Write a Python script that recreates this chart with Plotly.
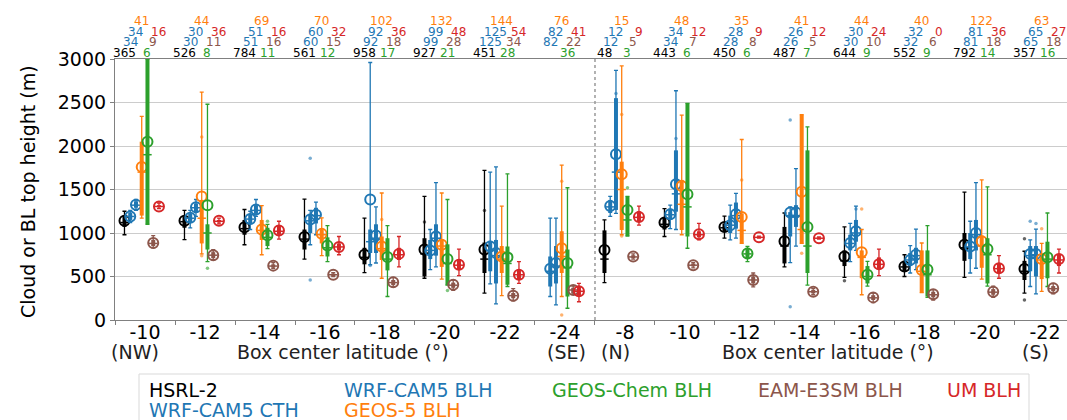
import plotly.graph_objects as go

# ---------------- data ----------------
tick_labels = ["-10", "-12", "-14", "-16", "-18", "-20", "-22", "-24",
               "-8", "-10", "-12", "-14", "-16", "-18", "-20", "-22"]
groups = list(range(16))

names = ["HSRL-2", "WRF-CAM5 CTH", "WRF-CAM5 BLH", "GEOS-5 BLH",
         "GEOS-Chem BLH", "EAM-E3SM BLH", "UM BLH"]
colors = ["#000000", "#1f77b4", "#1f77b4", "#ff7f0e", "#2ca02c", "#8c564b", "#d62728"]

# per group: [whisker low, q1, median, q3, whisker high, mean]  (m)
hsrl = [[980, 1070, 1120, 1200, 1250, 1140], [925, 1060, 1130, 1190, 1260, 1140],
        [865, 980, 1050, 1150, 1270, 1065], [700, 810, 930, 1040, 1390, 955],
        [545, 640, 720, 830, 1170, 750], [480, 500, 760, 940, 1420, 810],
        [310, 540, 700, 890, 1720, 810], None,
        [430, 540, 700, 1030, 1150, 805], [960, 1040, 1100, 1180, 1280, 1120],
        [940, 1020, 1060, 1110, 1195, 1070], [610, 650, 850, 1070, 1230, 905],
        [490, 620, 680, 800, 1070, 730], [500, 560, 610, 680, 750, 615],
        [490, 680, 830, 1000, 1470, 865], [310, 460, 560, 680, 790, 585]]
wrf_cth = [[1120, 1150, 1190, 1230, 1260, 1190], [1060, 1120, 1170, 1220, 1260, 1175],
           [1040, 1100, 1160, 1220, 1250, 1160], [865, 1000, 1140, 1220, 1260, 1155],
           [635, 770, 900, 1040, 2960, 1385], [580, 700, 800, 920, 1040, 800],
           [415, 560, 800, 910, 1700, 845], [270, 385, 560, 730, 1170, 590],
           [1190, 1230, 1300, 1380, 1420, 1310], [1050, 1150, 1210, 1280, 1320, 1215],
           [920, 1000, 1090, 1200, 1320, 1090], [660, 960, 1200, 1240, 1300, 1235],
           [670, 800, 880, 980, 1110, 885], [540, 620, 690, 770, 855, 690],
           [540, 700, 840, 1000, 1135, 845], [385, 560, 740, 850, 920, 760]]
wrf_blh = [[1260, 1290, 1320, 1365, 1385, 1325], [1190, 1230, 1290, 1340, 1385, 1295],
           [1190, 1220, 1260, 1320, 1385, 1270], [980, 1110, 1200, 1290, 1355, 1210],
           [655, 770, 940, 1100, 1300, 970], [610, 740, 940, 1100, 1580, 960],
           [185, 420, 740, 920, 1760, 770], [175, 420, 620, 850, 1170, 655],
           [1225, 1265, 1700, 2550, 2870, 1905], [1040, 1245, 1450, 1950, 2635, 1560],
           [940, 1050, 1200, 1350, 1455, 1215], [850, 1070, 1200, 1320, 1740, 1235],
           [800, 900, 1000, 1150, 1310, 1020], [580, 650, 740, 830, 1045, 750],
           [595, 800, 980, 1150, 1580, 1000], [300, 500, 750, 850, 1045, 760]]
geos5 = [[1170, 1200, 1700, 2050, 2340, 1760], [760, 880, 1170, 1380, 2620, 1420],
         [750, 920, 1030, 1150, 1315, 1040], [740, 880, 980, 1040, 1175, 990],
         [480, 690, 820, 960, 1460, 845], [470, 610, 850, 930, 1460, 865],
         [280, 540, 700, 850, 1310, 730], [270, 540, 730, 1020, 1780, 825],
         [980, 1035, 1500, 1820, 2920, 1675], [980, 1035, 1330, 1610, 2355, 1540],
         [880, 880, 1030, 1225, 2075, 1185], [880, 880, 1040, 2360, 2360, 1475],
         [290, 480, 720, 800, 1040, 780], [315, 315, 560, 800, 885, 575],
         [470, 600, 850, 970, 1610, 905], [330, 470, 690, 730, 880, 700]]
geoschem = [[1100, 1100, 1900, 3000, 3000, 2050], [670, 810, 1000, 1100, 2480, 1320],
            [820, 850, 950, 1060, 1100, 975], [670, 730, 830, 950, 1085, 855],
            [270, 570, 700, 940, 1085, 725], [400, 400, 650, 870, 1385, 700],
            [385, 405, 650, 845, 1680, 720], [135, 270, 600, 810, 1520, 655],
            [965, 965, 1150, 1420, 1420, 1265], [825, 960, 1300, 2490, 2490, 1445],
            [670, 700, 760, 820, 845, 765], [400, 540, 850, 1950, 2220, 1070],
            [390, 420, 500, 620, 675, 520], [260, 270, 520, 800, 1085, 580],
            [390, 420, 750, 940, 1530, 815], [385, 480, 700, 900, 1230, 720]]
eam = [[830, 850, 880, 920, 970, 885], [690, 710, 745, 780, 810, 745],
       [590, 600, 620, 640, 660, 625], [500, 505, 520, 535, 545, 520],
       [380, 400, 430, 460, 490, 435], [340, 370, 400, 430, 460, 405],
       [220, 250, 280, 310, 360, 280], [300, 310, 345, 370, 390, 345],
       [700, 710, 725, 745, 760, 730], [600, 615, 630, 650, 660, 630],
       [380, 420, 460, 500, 540, 460], [290, 305, 325, 345, 360, 325],
       [200, 230, 255, 285, 310, 260], [230, 260, 290, 325, 350, 295],
       [260, 290, 320, 355, 390, 325], [300, 330, 360, 390, 420, 365]]
um = [[1280, 1295, 1305, 1320, 1345, 1305], [1105, 1120, 1135, 1150, 1170, 1140],
      [930, 980, 1020, 1080, 1135, 1030], [750, 800, 840, 880, 960, 840],
      [610, 690, 750, 830, 960, 760], [510, 580, 630, 700, 815, 635],
      [420, 470, 520, 580, 670, 520], [210, 280, 330, 380, 420, 330],
      [1090, 1130, 1180, 1250, 1310, 1185], [920, 950, 980, 1020, 1110, 985],
      [940, 945, 950, 960, 965, 950], [930, 935, 940, 950, 955, 940],
      [510, 590, 640, 720, 815, 640], None,
      [480, 540, 590, 650, 740, 595], [540, 620, 690, 760, 815, 700]]

# individual outlying points: (group, value)
hsrl_pts = [(5, 1127), (6, 1258), (12, 450), (15, 935), (15, 231)]
wrf_cth_pts = [(3, 1858), (3, 461), (4, 627), (11, 2298), (11, 153), (15, 1135)]
wrf_blh_pts = [(8, 2604), (8, 1635), (9, 2087), (12, 1277), (15, 1108)]
geos5_pts = [(1, 738), (1, 2104), (4, 1154), (7, 1596), (7, 58), (8, 2363), (8, 965),
             (9, 1333), (10, 1609), (11, 766), (12, 1277), (15, 1050)]
geoschem_pts = [(1, 596), (2, 1135), (5, 338), (8, 1521)]
eam_pts = []
um_pts = []

# sample counts
n_hsrl = ["365", "526", "784", "561", "958", "927", "451", "", "48", "443", "450", "487", "644", "552", "792", "357"]
n_wrf_cth = ["34", "30", "51", "60", "92", "99", "125", "82", "12", "34", "28", "26", "30", "32", "81", "65"]
n_wrf_blh = ["34", "30", "51", "60", "92", "99", "125", "82", "12", "34", "28", "26", "30", "32", "81", "65"]
n_geos5 = ["41", "44", "69", "70", "102", "132", "144", "76", "15", "48", "35", "41", "44", "40", "122", "63"]
n_geoschem = ["6", "8", "11", "12", "17", "21", "28", "36", "3", "6", "6", "7", "9", "9", "14", "16"]
n_eam = ["9", "11", "16", "15", "18", "28", "34", "22", "5", "7", "8", "5", "10", "6", "18", "18"]
n_um = ["16", "36", "16", "32", "36", "48", "54", "41", "9", "12", "9", "12", "24", "0", "36", "27"]

stats = [hsrl, wrf_cth, wrf_blh, geos5, geoschem, eam, um]
points = [hsrl_pts, wrf_cth_pts, wrf_blh_pts, geos5_pts, geoschem_pts, eam_pts, um_pts]
counts = [n_hsrl, n_wrf_cth, n_wrf_blh, n_geos5, n_geoschem, n_eam, n_um]
offsets = [-0.342 + 0.0958 * k for k in range(7)]
count_rows = [1.024, 1.064, 1.104, 1.146, 1.024, 1.064, 1.104]

FONT = "DejaVu Sans"
fig = go.Figure()

for s in range(7):
    c = colors[s]
    xs, wlo, q1, med, q3, whi, mean = [], [], [], [], [], [], []
    for g in groups:
        st = stats[s][g]
        if st is None:
            continue
        xs.append(g + offsets[s])
        wlo.append(st[0]); q1.append(st[1]); med.append(st[2])
        q3.append(st[3]); whi.append(st[4]); mean.append(st[5])
    # whiskers
    fig.add_trace(go.Scatter(
        x=xs, y=med, mode="markers", showlegend=False, hoverinfo="skip",
        marker=dict(size=1, color="rgba(0,0,0,0)"),
        error_y=dict(type="data", symmetric=False,
                     array=[h - m for h, m in zip(whi, med)],
                     arrayminus=[m - l for m, l in zip(med, wlo)],
                     color=c, thickness=1.3, width=2)))
    # boxes
    fig.add_trace(go.Scatter(
        x=xs, y=med, mode="markers", showlegend=False, hoverinfo="skip",
        marker=dict(size=1, color="rgba(0,0,0,0)"),
        error_y=dict(type="data", symmetric=False,
                     array=[h - m for h, m in zip(q3, med)],
                     arrayminus=[m - l for m, l in zip(med, q1)],
                     color=c, thickness=4, width=0)))
    # medians
    fig.add_trace(go.Scatter(
        x=xs, y=med, mode="markers", showlegend=False,
        marker=dict(symbol="line-ew", size=6, color=c, line=dict(color=c, width=1.5))))
    # outlier points
    if points[s]:
        fig.add_trace(go.Scatter(
            x=[g + offsets[s] for g, v in points[s]], y=[v for g, v in points[s]],
            mode="markers", showlegend=False,
            marker=dict(size=3.5, color=c, opacity=0.6)))
    # means
    fig.add_trace(go.Scatter(
        x=xs, y=mean, mode="markers", name=names[s], showlegend=False,
        marker=dict(symbol="circle-open", size=10, color=c, line=dict(color=c, width=2))))

annotations = []
# counts above the plot
for s in range(7):
    for g in groups:
        t = counts[s][g]
        if t == "":
            continue
        annotations.append(dict(x=g + offsets[s], y=count_rows[s], xref="x", yref="paper",
                                text=t, showarrow=False, xanchor="center", yanchor="middle",
                                font=dict(family=FONT, size=12, color=colors[s])))
annotations.append(dict(x=-0.583, y=1.05, xref="x", yref="paper", text="N", showarrow=False,
                        xanchor="center", yanchor="middle",
                        font=dict(family=FONT, size=12, color="#000")))

# axis titles / region labels
W = 952.0
H = 261.0
def px2x(px):
    return (px - 115) / W
def py2y(py):
    return (320 - py) / H

annotations.append(dict(x=px2x(28), y=py2y(192), xref="paper", yref="paper",
                        text="Cloud or BL top height (m)", textangle=-90, showarrow=False,
                        xanchor="center", yanchor="middle",
                        font=dict(family=FONT, size=19, color="#000")))
for txt, cx in [("(NW)", 134.5), ("Box center latitude (°)", 343), ("(SE)", 566.5),
                ("(N)", 615), ("Box center latitude (°)", 828), ("(S)", 1035)]:
    annotations.append(dict(x=px2x(cx), y=py2y(352), xref="paper", yref="paper", text=txt,
                            showarrow=False, xanchor="center", yanchor="middle",
                            font=dict(family=FONT, size=19, color="#222")))

# legend text
legend_items = [(0, 147, 390), (1, 147, 410), (2, 342, 390), (3, 342, 410),
                (4, 550, 390), (5, 756, 390), (6, 945, 390)]
for s, lx, ly in legend_items:
    annotations.append(dict(x=px2x(lx), y=py2y(ly), xref="paper", yref="paper", text=names[s],
                            showarrow=False, xanchor="left", yanchor="middle",
                            font=dict(family=FONT, size=19, color=colors[s])))

shapes = [
    dict(type="line", xref="x", yref="paper", x0=7.5, x1=7.5, y0=0, y1=1,
         line=dict(color="#999999", width=1.5, dash="dot")),
    dict(type="rect", xref="paper", yref="paper", x0=px2x(139), x1=px2x(1029),
         y0=py2y(374), y1=py2y(445), line=dict(color="#d9d9d9", width=1)),
]

fig.update_layout(
    width=1067, height=420,
    margin=dict(l=115, r=0, t=59, b=100, pad=0, autoexpand=False),
    paper_bgcolor="white", plot_bgcolor="white",
    font=dict(family=FONT, size=19, color="#000"),
    showlegend=False,
    annotations=annotations, shapes=shapes,
    xaxis=dict(range=[-0.5, 15.367], tickmode="array", tickvals=groups, ticktext=tick_labels,
               ticks="", showgrid=False, zeroline=False, automargin=False,
               ticklabelstandoff=-5,
               showline=True, linecolor="#808080", linewidth=1.2, mirror=True,
               tickfont=dict(family=FONT, size=19, color="#000"),
               minor=dict(tick0=0.5, dtick=1, ticks="outside", ticklen=4,
                          tickcolor="#808080", showgrid=False)),
    yaxis=dict(range=[0, 3000], tickvals=[0, 500, 1000, 1500, 2000, 2500, 3000],
               ticks="outside", ticklen=4, tickcolor="#808080", automargin=False,
               showgrid=True, gridcolor="#cccccc", gridwidth=1, zeroline=False,
               showline=True, linecolor="#808080", linewidth=1.2,
               tickfont=dict(family=FONT, size=19, color="#000")),
)

fig.write_html("out.html", config={"displayModeBar": False},
               post_script="document.body.style.margin='0';document.body.style.overflow='hidden';")
